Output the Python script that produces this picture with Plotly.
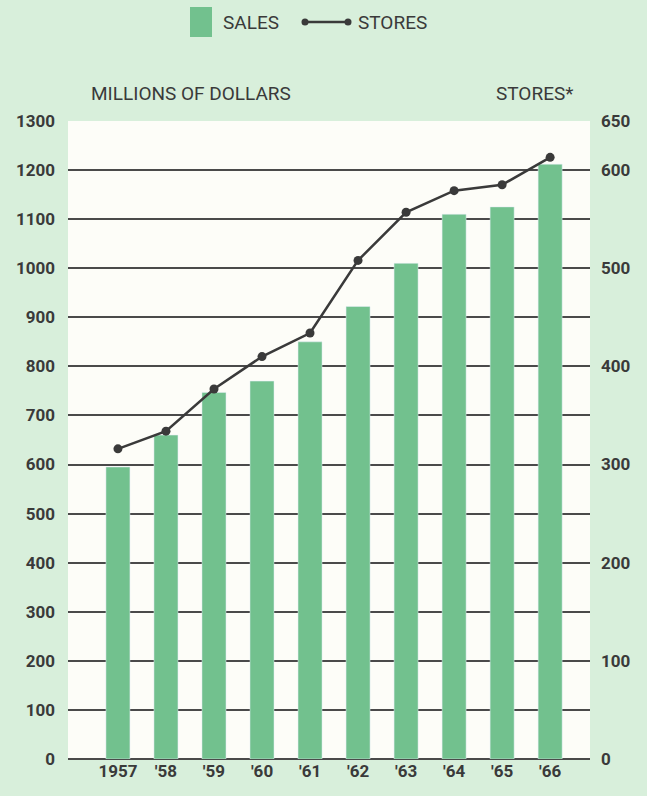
import plotly.graph_objects as go

years = ["1957", "'58", "'59", "'60", "'61", "'62", "'63", "'64", "'65", "'66"]
sales = [595, 660, 747, 770, 850, 922, 1010, 1110, 1125, 1212]
stores = [316, 334, 377, 410, 434, 508, 557, 579, 585, 613]
left_ticks = list(range(0, 1301, 100))
right_ticks = list(range(0, 651, 50))
right_labels = [str(v) if v % 100 == 0 or v == 650 else "" for v in right_ticks]

BG = "#d8efdb"
BAR = "#72c18e"
INK = "#3a3a3a"
GRID = "#4a4a4a"
FONT = "Roboto, Arial, sans-serif"

fig = go.Figure()
fig.add_trace(go.Bar(x=list(range(len(years))), y=sales, marker_color=BAR,
                     width=0.5, name="SALES", showlegend=False))
fig.add_trace(go.Scatter(x=list(range(len(years))), y=stores, yaxis="y2",
                         mode="lines+markers", name="STORES", showlegend=False,
                         line=dict(color=INK, width=2.5),
                         marker=dict(color=INK, size=9)))

fig.update_layout(
    width=647, height=796,
    margin=dict(l=68, r=57, t=121, b=37),
    paper_bgcolor=BG, plot_bgcolor="#fdfdf8",
    font=dict(family=FONT, color=INK),
    bargap=0.5,
    xaxis=dict(range=[-1.04, 9.83], tickmode="array",
               tickvals=list(range(len(years))), ticktext=years,
               showgrid=False, zeroline=False, showline=False, ticks="",
               tickfont=dict(size=17, family=FONT, weight="bold", color=INK)),
    yaxis=dict(range=[0, 1300], tickmode="array", tickvals=left_ticks,
               showgrid=True, gridcolor=GRID, gridwidth=1.5,
               zeroline=True, zerolinecolor=GRID, zerolinewidth=1.5,
               showline=False, ticks="", ticklabelstandoff=12,
               tickfont=dict(size=17, family=FONT, weight="bold", color=INK)),
    yaxis2=dict(range=[0, 650], overlaying="y", side="right", tickmode="array",
                tickvals=right_ticks, ticktext=right_labels,
                showgrid=False, zeroline=False, showline=False, ticks="",
                ticklabelstandoff=10,
                tickfont=dict(size=17, family=FONT, weight="bold", color=INK)),
)

def px_x(px):
    return (px - 68) / 522

def px_y(py):
    return (759 - py) / 638

shapes = [
    dict(type="rect", xref="paper", yref="paper", x0=px_x(190), x1=px_x(212),
         y0=px_y(37), y1=px_y(7), fillcolor=BAR, line=dict(width=0)),
    dict(type="line", xref="paper", yref="paper", x0=px_x(305), x1=px_x(348),
         y0=px_y(22), y1=px_y(22), line=dict(color=INK, width=2.5)),
]
for cx in (305, 348):
    shapes.append(dict(type="circle", xref="paper", yref="paper",
                       x0=px_x(cx - 3.5), x1=px_x(cx + 3.5),
                       y0=px_y(22 + 3.5), y1=px_y(22 - 3.5),
                       fillcolor=INK, line=dict(width=0)))
fig.update_layout(shapes=shapes)

ann = [
    dict(text="SALES", x=px_x(221), y=px_y(22), xanchor="left", yanchor="middle"),
    dict(text="STORES", x=px_x(356), y=px_y(22), xanchor="left", yanchor="middle"),
    dict(text="MILLIONS OF DOLLARS", x=px_x(89), y=px_y(93), xanchor="left", yanchor="middle"),
    dict(text="STORES*", x=px_x(575), y=px_y(93), xanchor="right", yanchor="middle"),
]
for a in ann:
    a.update(xref="paper", yref="paper", showarrow=False,
             font=dict(size=19, family=FONT, color=INK))
fig.update_layout(annotations=ann)

fig.write_html("out.html")
